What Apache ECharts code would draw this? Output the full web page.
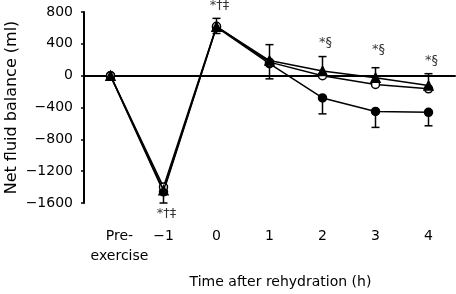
<!DOCTYPE html>
<html>
<head>
<meta charset="utf-8">
<script src="https://cdn.jsdelivr.net/npm/echarts@6/dist/echarts.min.js"></script>
<style>
  html, body { margin: 0; padding: 0; background: #fff; }
  #chart { width: 456px; height: 294px; }
</style>
</head>
<body>
<div id="chart"></div>
<script>
// categories on the x axis
var categories = ['Pre-\nexercise', '\u22121', '0', '1', '2', '3', '4'];
// three groups
var filledCircle = [0, -1460, 610, 150, -280, -450, -460];
var openCircle = [0, -1400, 620, 170, 0, -110, -165];
var filledTriangle = [0, -1440, 615, 190, 60, -25, -125];
// one-sided error bars: up from the top group, down from the bottom group
var errUp = [null, null, 720, 390, 240, 100, 25];
var errDown = [null, -1600, 530, -40, -480, -650, -630];
// significance marks
var annoCats = [1, 2, 4, 5, 6];
var annoVals = [-1735, 880, 415, 327, 189];
var annoText = ['*\u2020\u2021', '*\u2020\u2021', '*\u00a7', '*\u00a7', '*\u00a7'];
// y ticks
var yMin = -1600, yMax = 800, yStep = 400;

var font = 'DejaVu Sans, Arial, sans-serif';

var dom = document.getElementById('chart');
var myChart = echarts.init(dom, null, { renderer: 'canvas' });

function errItem(anchor, ends) {
    var out = [];
    for (var i = 0; i < ends.length; i++) {
        if (ends[i] !== null) out.push([i, anchor[i], ends[i]]);
    }
    return out;
}

function renderErr(params, api) {
    var x = api.value(0);
    var p0 = api.coord([x, api.value(1)]);
    var p1 = api.coord([x, api.value(2)]);
    var half = 4;
    var style = { stroke: '#000', lineWidth: 1.5 };
    return {
        type: 'group',
        children: [
            { type: 'line', shape: { x1: p0[0], y1: p0[1], x2: p1[0], y2: p1[1] }, style: style },
            { type: 'line', shape: { x1: p1[0] - half, y1: p1[1], x2: p1[0] + half, y2: p1[1] }, style: style }
        ]
    };
}

var annoData = [];
for (var k = 0; k < annoCats.length; k++) {
    annoData.push({ value: [annoCats[k], annoVals[k]], label: { formatter: annoText[k] } });
}

function lineSeries(name, data, symbol, fill, z) {
    return {
        name: name,
        type: 'line',
        data: data,
        xAxisIndex: 0,
        symbol: symbol,
        symbolSize: symbol === 'triangle' ? 9 : 8,
        showAllSymbol: true,
        lineStyle: { color: '#000', width: 1.5 },
        itemStyle: { color: fill, borderColor: '#000', borderWidth: 1.5 },
        z: z,
        animation: false
    };
}

var option = {
    animation: false,
    grid: { left: 84, right: 1, top: 12, height: 191, containLabel: false, outerBoundsMode: 'none' },
    xAxis: [{
        type: 'category',
        data: categories,
        boundaryGap: true,
        axisLine: { onZero: true, lineStyle: { color: '#000', width: 2 } },
        axisTick: { inside: true, length: 4, lineStyle: { color: '#000', width: 1.5 } },
        axisLabel: { show: false },
        splitLine: { show: false }
    }, {
        type: 'category',
        data: categories,
        position: 'bottom',
        boundaryGap: true,
        axisLine: { show: false },
        axisTick: { show: false },
        axisLabel: {
            interval: 0, margin: 23, color: '#000', fontFamily: font, fontSize: 14, lineHeight: 20,
            formatter: function (v, i) {
                // the first label sits a little right of its slot
                return i === 0 ? v.split('\n').map(function (s) { return '{pre|' + s + '}'; }).join('\n') : v;
            },
            rich: { pre: { fontFamily: font, fontSize: 14, lineHeight: 20, color: '#000', padding: [0, 0, 0, 18] } }
        },
        name: 'Time after rehydration (h)',
        nameLocation: 'middle',
        nameGap: 72,
        nameMoveOverlap: false,
        nameTextStyle: { color: '#000', fontFamily: font, fontSize: 14, padding: [0, 0, 0, 22] }
    }],
    yAxis: {
        type: 'value',
        min: yMin,
        max: yMax,
        interval: yStep,
        axisLine: { show: true, onZero: false, lineStyle: { color: '#000', width: 2 } },
        axisTick: { show: true, length: 3, lineStyle: { color: '#000', width: 1.5 } },
        axisLabel: {
            margin: 11, color: '#000', fontFamily: font, fontSize: 14,
            formatter: function (v) { return String(v).replace('-', '\u2212'); }
        },
        splitLine: { show: false },
        name: 'Net fluid balance (ml)',
        nameLocation: 'middle',
        nameGap: 64,
        nameMoveOverlap: false,
        nameTextStyle: { color: '#000', fontFamily: font, fontSize: 16 }
    },
    series: [
        {
            type: 'custom', renderItem: renderErr, data: errItem(filledTriangle, errUp),
            encode: { x: 0, y: [1, 2] }, z: 1, silent: true
        },
        {
            type: 'custom', renderItem: renderErr, data: errItem(filledCircle, errDown),
            encode: { x: 0, y: [1, 2] }, z: 1, silent: true
        },
        lineSeries('filled', filledCircle, 'circle', '#000', 2),
        lineSeries('open', openCircle, 'circle', '#fff', 3),
        lineSeries('triangle', filledTriangle, 'triangle', '#000', 4),
        {
            type: 'scatter',
            data: annoData,
            symbolSize: 0,
            clip: false,
            silent: true,
            label: { show: true, position: 'inside', offset: [3, 0], color: '#000', fontFamily: font, fontSize: 13 },
            z: 5
        }
    ]
};

if (option && typeof option === 'object') {
    myChart.setOption(option, true);
}
</script>
</body>
</html>
